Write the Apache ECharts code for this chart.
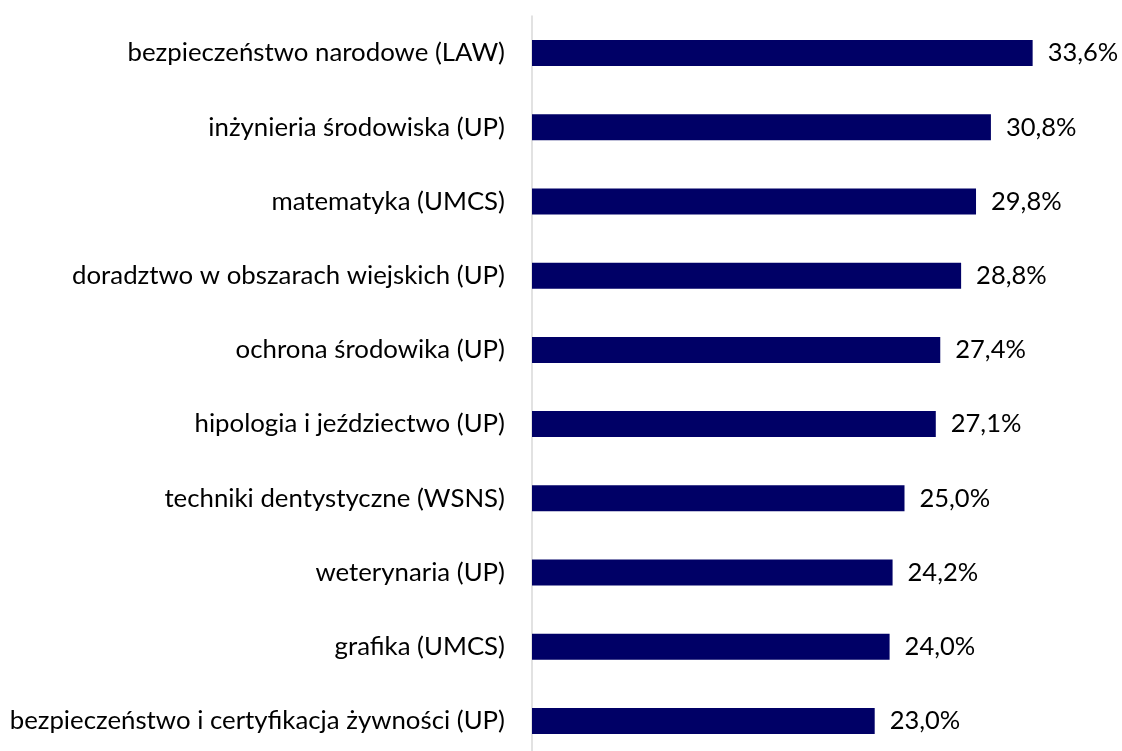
<!DOCTYPE html>
<html>
<head>
<meta charset="utf-8">
<script src="https://cdn.jsdelivr.net/npm/echarts@6/dist/echarts.min.js"></script>
<style>
html,body{margin:0;padding:0;background:#fff;}
#c{width:1122px;height:751px;}
</style>
</head>
<body>
<div id="c"></div>
<script>
const categories = [
  "bezpieczeństwo narodowe (LAW)",
  "inżynieria środowiska (UP)",
  "matematyka (UMCS)",
  "doradztwo w obszarach wiejskich (UP)",
  "ochrona środowika (UP)",
  "hipologia i jeździectwo (UP)",
  "techniki dentystyczne (WSNS)",
  "weterynaria (UP)",
  "grafika (UMCS)",
  "bezpieczeństwo i certyfikacja żywności (UP)"
];
const values = [33.6, 30.8, 29.8, 28.8, 27.4, 27.1, 25.0, 24.2, 24.0, 23.0];

const chart = echarts.init(document.getElementById('c'));
const font = 'Lato, "Open Sans", sans-serif';
chart.setOption({
  animation: false,
  backgroundColor: '#ffffff',
  grid: { left: 532, top: 16, width: 536.4, height: 742, containLabel: false, outerBoundsMode: 'none' },
  xAxis: {
    type: 'value', min: 0, max: 36, show: false
  },
  yAxis: {
    type: 'category',
    data: categories,
    inverse: true,
    axisLine: { show: true, lineStyle: { color: '#d9d9d9', width: 1.5 } },
    axisTick: { show: false },
    axisLabel: { color: '#000000', fontSize: 25.8, fontFamily: font, margin: 27 }
  },
  series: [{
    type: 'bar',
    data: values,
    barWidth: 26,
    itemStyle: { color: '#000066' },
    label: {
      show: true, position: 'right', distance: 15,
      color: '#000000', fontSize: 25.5, fontFamily: font,
      formatter: p => p.value.toFixed(1).replace('.', ',') + '%'
    }
  }]
});
</script>
</body>
</html>
